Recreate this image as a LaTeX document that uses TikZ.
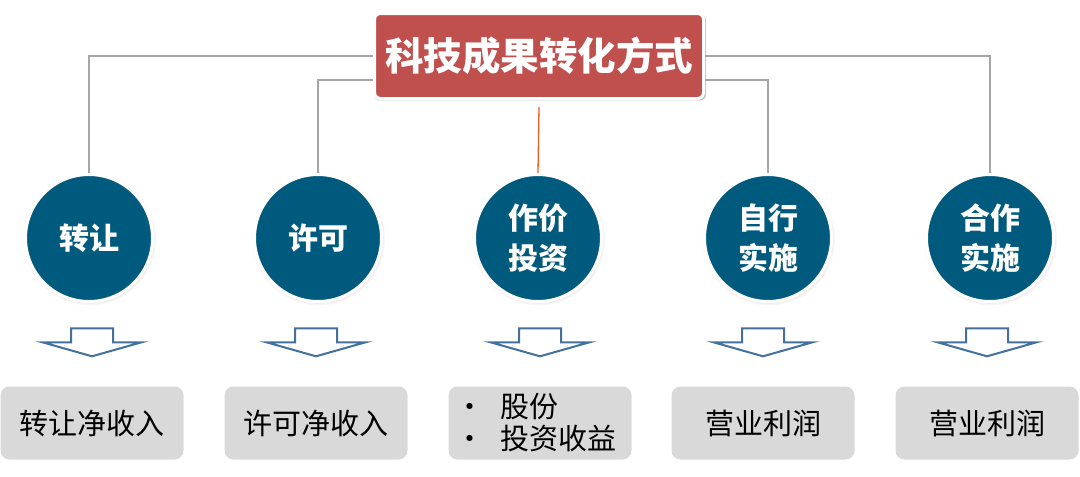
\documentclass[tikz,border=0pt]{standalone}
\usepackage{fontspec}
\setmainfont{Noto Sans CJK SC}
\usepackage{tikz}
\usetikzlibrary{arrows.meta,positioning,shadows,calc}

\definecolor{titlered}{HTML}{C0504D}
\definecolor{waybl}{HTML}{005A7E}
\definecolor{arrowbl}{HTML}{41719C}
\definecolor{linegray}{HTML}{A6A6A6}
\definecolor{lineorange}{HTML}{E8601C}
\definecolor{boxgray}{HTML}{D9D9D9}

\begin{document}
\begin{tikzpicture}[
    x=1pt, y=-1pt,
    title/.style={draw=white, line width=3pt, fill=titlered, rounded corners=6pt,
                  minimum width=329pt, minimum height=85pt, inner sep=0pt,
                  text=white, font=\fontsize{38.5}{44}\selectfont\bfseries,
                  drop shadow={shadow xshift=1pt, shadow yshift=-1.5pt,
                               shadow scale=1.01, opacity=0.45}},
    way/.style={circle, draw=white, line width=3pt, fill=waybl, minimum size=127pt,
                inner sep=0pt, align=center, text=white,
                font=\fontsize{30}{40}\selectfont\bfseries,
                circular drop shadow={shadow xshift=0.5pt, shadow yshift=-1pt,
                                      shadow scale=1.05, opacity=0.4}},
    gain/.style={fill=boxgray, rounded corners=9pt, minimum width=183pt,
                 minimum height=73pt, inner sep=0pt, align=left,
                 font=\fontsize{29}{32}\selectfont},
    link/.style={draw=linegray, line width=1.3pt},
    hollow/.style={draw=arrowbl, fill=white, line width=2pt, line join=miter}
]
    \useasboundingbox (0,0) rectangle (1080,477);

    % top
    \node[title] (T) at (539,56) {科技成果转化方式};

    % ways
    \node[way] (W1) at (89,238)  {转让};
    \node[way] (W2) at (318,238) {许可};
    \node[way] (W3) at (538,238) {作价\\投资};
    \node[way] (W4) at (768,238) {自行\\实施};
    \node[way] (W5) at (990,238) {合作\\实施};

    \draw[link] (W1.north) |- (T.west);
    \draw[link] (W5.north) |- (T.east);
    \draw[link] (W2.north) |- ([yshift=-24pt]T.west);
    \draw[link] (W4.north) |- ([yshift=-24pt]T.east);
    \draw[draw=lineorange, line width=1.3pt] ([yshift=-7pt]T.south) -- (W3.north);

    % results
    \node[gain] (G1) at (92,423)  {转让净收入};
    \node[gain] (G2) at (316,423) {许可净收入};
    \node[gain] (G3) at (540,423) {\hspace{-8pt}•\hspace{17pt}股份\\\hspace{-8pt}•\hspace{17pt}投资收益};
    \node[gain] (G4) at (763,423) {营业利润};
    \node[gain] (G5) at (987,423) {营业利润};

    % down arrows
    \foreach \g in {G1,G2,G3,G4,G5}
        \draw[hollow] ($(\g.north)+(-21,-58)$) -- ++(42,0) -- ++(0,14)
            -- ++(28.5,0) -- ++(-49.5,14) -- ++(-49.5,-14) -- ++(28.5,0) -- cycle;
\end{tikzpicture}
\end{document}
